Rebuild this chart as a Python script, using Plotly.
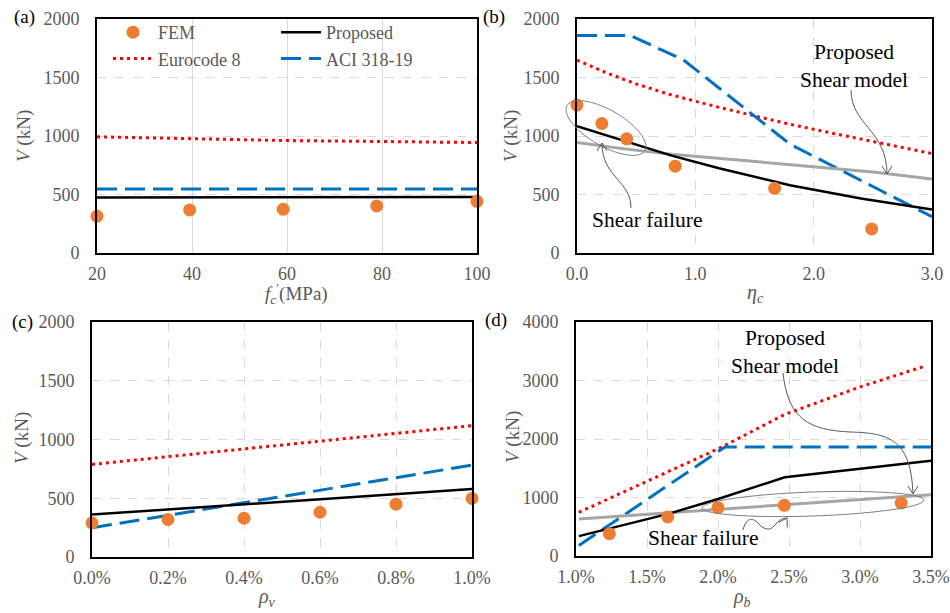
import math
import plotly.graph_objects as go

W, H = 950, 613
FONT = "Liberation Serif, Times New Roman, serif"
ORANGE = "#ED7D31"
RED = "#FF0000"
BLUE = "#0070C0"
BLACK = "#000000"
LGRAY = "#A5A5A5"
TICK = "#595959"
ANN = "#595959"

# ---------------- data ----------------
# (a) concrete strength
a_fem_x = [20, 39.5, 59.2, 78.9, 100]
a_fem = [314, 368, 374, 402, 442]
a_x = [20, 40, 60, 80, 100]
a_prop = [474, 476, 477, 478, 479]
a_ec8 = [993, 976, 961, 953, 944]
a_aci = [548, 548, 548, 548, 548]

# (b) axial load ratio
b_fem_x = [0.0, 0.21, 0.42, 0.83, 1.67, 2.49]
b_fem = [1264, 1107, 976, 742, 553, 205]
b_prop_x = [0.0, 0.4, 0.8, 1.2, 1.8, 2.4, 3.0]
b_prop = [1084, 957, 832, 725, 579, 465, 371]
b_shear_x = [0.0, 0.4, 0.8, 1.2, 1.6, 2.0, 2.5, 3.0]
b_shear = [944, 890, 845, 808, 775, 740, 692, 632]
b_ec8_x = [0.0, 0.25, 0.5, 0.8, 1.2, 1.5, 1.8, 2.2, 2.6, 3.0]
b_ec8 = [1649, 1540, 1445, 1350, 1245, 1170, 1100, 1015, 930, 850]
b_aci_x = [0.0, 0.45, 0.9, 1.8, 3.0]
b_aci = [1860, 1860, 1650, 930, 310]

# (c) transverse reinforcement ratio (%)
c_fem_x = [0.0, 0.2, 0.4, 0.6, 0.8, 1.0]
c_fem = [290, 319, 330, 381, 450, 498]
c_x = [0.0, 1.0]
c_prop = [361, 578]
c_ec8 = [788, 1118]
c_aci = [248, 782]

# (d) longitudinal reinforcement ratio (%)
d_fem_x = [1.235, 1.646, 2.0, 2.467, 3.29]
d_fem = [382, 667, 826, 866, 906]
d_prop_x = [1.02, 1.65, 2.0, 2.47, 3.5]
d_prop = [340, 720, 975, 1345, 1630]
d_shear_x = [1.02, 3.5]
d_shear = [632, 1048]
d_ec8_x = [1.02, 1.65, 2.0, 2.47, 3.0, 3.46]
d_ec8 = [746, 1440, 1830, 2420, 2890, 3248]
d_aci_x = [1.02, 2.05, 3.5]
d_aci = [180, 1865, 1865]

# ---------------- helpers ----------------
def px(x):
    return x / W


def py(y):
    return 1 - y / H


fig = go.Figure()


def line(x, y, xa, ya, color, width, dash="solid", name=None, legend=None, rank=None):
    fig.add_trace(go.Scatter(
        x=x, y=y, xaxis=xa, yaxis=ya, mode="lines", name=name,
        line=dict(color=color, width=width, dash=dash),
        showlegend=legend is not None, legend=legend or "legend",
        legendrank=rank or 1000, hoverinfo="skip"))


def pts(x, y, xa, ya, legend=None, rank=None):
    fig.add_trace(go.Scatter(
        x=x, y=y, xaxis=xa, yaxis=ya, mode="markers", name="FEM",
        marker=dict(color=ORANGE, size=13), cliponaxis=False,
        showlegend=legend is not None, legend=legend or "legend",
        legendrank=rank or 1000, hoverinfo="skip"))


DOT = "3px,4px"
DASH = "20px,8px"

# (a)
line(a_x, a_ec8, "x", "y", RED, 3, DOT, "Eurocode 8", "legend", 2)
line(a_x, a_aci, "x", "y", BLUE, 3, DASH, "ACI 318-19", "legend2", 2)
line(a_x, a_prop, "x", "y", BLACK, 2.5, "solid", "Proposed", "legend2", 1)
pts(a_fem_x, a_fem, "x", "y", "legend", 1)
# (b)
line(b_ec8_x, b_ec8, "x2", "y2", RED, 3, DOT)
line(b_aci_x, b_aci, "x2", "y2", BLUE, 3, DASH)
line(b_shear_x, b_shear, "x2", "y2", LGRAY, 3)
line(b_prop_x, b_prop, "x2", "y2", BLACK, 2.5)
pts(b_fem_x, b_fem, "x2", "y2")
# (c)
line(c_x, c_ec8, "x3", "y3", RED, 3, DOT)
line(c_x, c_aci, "x3", "y3", BLUE, 3, DASH)
line(c_x, c_prop, "x3", "y3", BLACK, 2.5)
pts(c_fem_x, c_fem, "x3", "y3")
# (d)
line(d_ec8_x, d_ec8, "x4", "y4", RED, 3, DOT)
line(d_aci_x, d_aci, "x4", "y4", BLUE, 3, DASH)
line(d_shear_x, d_shear, "x4", "y4", LGRAY, 3)
line(d_prop_x, d_prop, "x4", "y4", BLACK, 2.5)
pts(d_fem_x, d_fem, "x4", "y4")

# ---------------- axes ----------------
def ax(domain, anchor, rng, dtick, griddash="dash", **kw):
    d = dict(domain=domain, anchor=anchor, range=rng, dtick=dtick,
             showline=True, linecolor="black", linewidth=2, mirror=True,
             showgrid=True, gridcolor="#D9D9D9", gridwidth=1, griddash=griddash,
             zeroline=False, ticks="", fixedrange=True, automargin=False,
             tickfont=dict(family=FONT, size=18, color=TICK))
    d.update(kw)
    return d


yA = [py(253), py(19)]
yC = [py(557), py(322)]
XS = 3
YS = 12
fig.update_layout(
    xaxis=ax([px(97), px(477)], "y", [20, 100], 20, griddash="solid", tick0=20, ticklabelstandoff=XS),
    yaxis=ax(yA, "x", [0, 2000], 500, ticklabelstandoff=YS),
    xaxis2=ax([px(577), px(932)], "y2", [0, 3], 1, tickformat=".1f", ticklabelstandoff=XS),
    yaxis2=ax(yA, "x2", [0, 2000], 500, ticklabelstandoff=YS),
    xaxis3=ax([px(92), px(472)], "y3", [0, 1], 0.2, tickformat=".1f", ticksuffix="%", ticklabelstandoff=XS),
    yaxis3=ax(yC, "x3", [0, 2000], 500, ticklabelstandoff=YS),
    xaxis4=ax([px(576), px(931)], "y4", [1, 3.5], 0.5, tickformat=".1f", ticksuffix="%", ticklabelstandoff=XS),
    yaxis4=ax([py(556), py(322)], "x4", [0, 4000], 1000, ticklabelstandoff=YS),
)

# ---------------- legends ----------------
leg = dict(yanchor="top", xanchor="left", bgcolor="rgba(0,0,0,0)",
           font=dict(family=FONT, size=18, color=TICK), itemwidth=40,
           tracegroupgap=0, orientation="v")
fig.update_layout(
    legend=dict(leg, x=px(108), y=py(14)),
    legend2=dict(leg, x=px(276), y=py(14)),
)

# ---------------- text annotations ----------------
anns = []


def text(x, y, s, size=19, color=BLACK, angle=0):
    anns.append(dict(x=px(x), y=py(y), xref="paper", yref="paper", text=s,
                     showarrow=False, textangle=angle, xanchor="center", yanchor="middle",
                     font=dict(family=FONT, size=size, color=color)))


text(24, 17, "(a)")
text(494, 17, "(b)")
text(22, 322, "(c)")
text(496, 320, "(d)")
text(24, 136, "<i>V</i> (kN)", 19, TICK, -90)
text(511, 136, "<i>V</i> (kN)", 19, TICK, -90)
text(22, 438, "<i>V</i> (kN)", 19, TICK, -90)
text(513, 437, "<i>V</i> (kN)", 19, TICK, -90)
text(296, 294, "<i>f</i><sub><i>c</i></sub><sup>′</sup>(MPa)", 19, TICK)
text(755, 293, "<i>η</i><sub><i>c</i></sub>", 20, TICK)
text(267, 597, "<i>ρ</i><sub><i>v</i></sub>", 20, TICK)
text(742, 597, "<i>ρ</i><sub><i>b</i></sub>", 20, TICK)
text(854, 66, "Proposed<br>Shear model", 21.5)
text(647, 220, "Shear failure", 21.5)
text(785, 352, "Proposed<br>Shear model", 21.5)
text(703, 538, "Shear failure", 21.5)
fig.update_layout(annotations=anns)

# ---------------- callout shapes ----------------
shapes = []


def P(x, y):
    return f"{px(x):.5f},{py(y):.5f}"


def ellipse(cx, cy, a, b, ang):
    t = math.radians(ang)
    p = []
    for i in range(73):
        th = 2 * math.pi * i / 72
        x = cx + a * math.cos(th) * math.cos(t) - b * math.sin(th) * math.sin(t)
        y = cy + a * math.cos(th) * math.sin(t) + b * math.sin(th) * math.cos(t)
        p.append(P(x, y))
    shapes.append(dict(type="path", xref="paper", yref="paper",
                       path="M " + " L ".join(p) + " Z",
                       line=dict(color="#7F7F7F", width=1)))


def curve(start, segs, tip_dir):
    s = "M " + P(*start)
    for c1, c2, e in segs:
        s += " C " + P(*c1) + " " + P(*c2) + " " + P(*e)
    shapes.append(dict(type="path", xref="paper", yref="paper", path=s,
                       line=dict(color=ANN, width=1)))
    tip = segs[-1][2]
    dx, dy = tip_dir
    n = math.hypot(dx, dy)
    dx, dy = dx / n, dy / n
    L, Wd = 8, 5
    w1 = (tip[0] - L * dx - Wd * dy, tip[1] - L * dy + Wd * dx)
    w2 = (tip[0] - L * dx + Wd * dy, tip[1] - L * dy - Wd * dx)
    shapes.append(dict(type="path", xref="paper", yref="paper",
                       path="M " + P(*w1) + " L " + P(*tip) + " L " + P(*w2),
                       line=dict(color=ANN, width=1)))


ellipse(606, 128, 45, 18, 30)
ellipse(813, 504, 111, 12, -2)
curve((631, 208), [((631, 180), (602, 178), (602, 143))], (0, -1))
curve((851, 90), [((851, 125), (887, 130), (887, 174))], (0, 1))
curve((783, 373), [((788, 420), (810, 430), (850, 432)),
                   ((890, 433), (911, 440), (913, 494))], (0, 1))
curve((743, 530), [((746, 518), (752, 517), (758, 523)),
                   ((764, 530), (770, 531), (774, 526)),
                   ((779, 520), (783, 518), (787, 518))], (0.5, -0.86))
fig.update_layout(shapes=shapes)

fig.update_layout(width=W, height=H, margin=dict(l=0, r=0, t=0, b=0, autoexpand=False),
                  plot_bgcolor="white", paper_bgcolor="white",
                  font=dict(family=FONT, size=18, color=TICK), showlegend=True)

fig.write_html("out.html", config={"displayModeBar": False},
               post_script="document.body.style.margin='0px';document.body.style.overflow='hidden';")
